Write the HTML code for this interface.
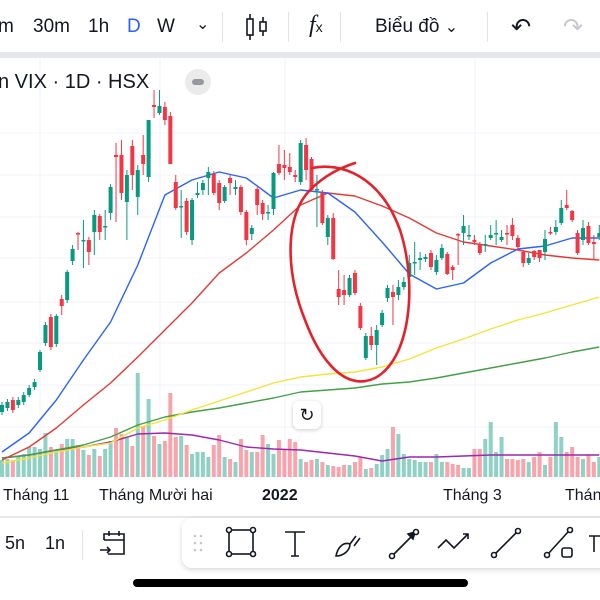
<!DOCTYPE html>
<html><head><meta charset="utf-8"><style>
body{margin:0;width:600px;height:600px;overflow:hidden;background:#fff;font-family:"Liberation Sans",sans-serif;position:relative}
.t{position:absolute;font-size:19px;color:#131722;white-space:nowrap}
.sep{position:absolute;width:1px;background:#e0e3eb}
</style></head><body>
<div style="position:absolute;left:0;top:0;width:600px;height:52px;background:#fff"></div>
<div style="position:absolute;left:0;top:52px;width:600px;height:6px;background:#e6e8ee"></div>
<div class="t" style="left:-2px;top:16px">m</div>
<div class="t" style="left:33px;top:16px">30m</div>
<div class="t" style="left:88px;top:16px">1h</div>
<div class="t" style="left:127px;top:16px;color:#2962ff">D</div>
<div class="t" style="left:157px;top:16px">W</div>
<div class="t" style="left:196px;top:14px;font-size:16px">⌄</div>
<div class="sep" style="left:222px;top:12px;height:30px"></div>
<svg style="position:absolute;left:244px;top:12px" width="26" height="30"><g stroke="#131722" stroke-width="1.6" fill="none"><rect x="3" y="7" width="6" height="16"/><line x1="6" y1="2" x2="6" y2="7"/><line x1="6" y1="23" x2="6" y2="28"/><rect x="16" y="10" width="6" height="9"/><line x1="19" y1="5" x2="19" y2="10"/><line x1="19" y1="19" x2="19" y2="24"/></g></svg>
<div class="sep" style="left:288px;top:12px;height:30px"></div>
<div class="t" style="left:309px;top:12px;font-family:'Liberation Serif',serif;font-style:italic;font-size:24px">f<span style="font-size:14px;font-style:normal;font-family:'Liberation Sans'">x</span></div>
<div class="sep" style="left:340px;top:12px;height:30px"></div>
<div class="t" style="left:375px;top:16px">Biểu đồ <span style="font-size:16px">⌄</span></div>
<div class="sep" style="left:487px;top:12px;height:30px"></div>
<div class="t" style="left:511px;top:13px;font-size:24px">↶</div>
<div class="t" style="left:563px;top:13px;font-size:24px;color:#c5c8d0">↷</div>

<svg id="chart" style="position:absolute;left:0;top:58px" width="600" height="458" viewBox="0 58 600 458"></svg>

<div class="t" style="left:-2px;top:71px;font-size:20px">n VIX · 1D · HSX</div>
<div style="position:absolute;left:185px;top:69px;width:26px;height:26px;border-radius:13px;background:#ebebeb"><div style="position:absolute;left:7px;top:10px;width:12px;height:6px;border-radius:3px;background:#9598a1"></div></div>
<div style="position:absolute;left:293px;top:401px;width:28px;height:28px;border-radius:6px;background:#fff;box-shadow:0 1px 4px rgba(0,0,0,.2);text-align:center;line-height:28px;font-size:18px;color:#131722">↻</div>

<div class="t" style="left:3px;top:487px;font-size:16px">Tháng 11</div>
<div class="t" style="left:99px;top:487px;font-size:16px">Tháng Mười hai</div>
<div class="t" style="left:262px;top:487px;font-size:16px;font-weight:bold">2022</div>
<div class="t" style="left:443px;top:487px;font-size:16px">Tháng 3</div>
<div class="t" style="left:565px;top:487px;font-size:16px">Thán</div>
<div style="position:absolute;left:0;top:516px;width:600px;height:2px;background:#e6e8ee"></div>
<div class="t" style="left:5px;top:533px;font-size:18px">5n</div>
<div class="t" style="left:45px;top:533px;font-size:18px">1n</div>
<div class="sep" style="left:82px;top:530px;height:30px"></div>
<svg style="position:absolute;left:98px;top:528px" width="30" height="30"><g stroke="#131722" stroke-width="1.6" fill="none"><path d="M6 12V6h20v20H10"/><line x1="6" y1="12" x2="26" y2="12"/><line x1="11" y1="3" x2="11" y2="8"/><line x1="21" y1="3" x2="21" y2="8"/><path d="M2 22h10M9 19l3 3-3 3"/></g></svg>
<div style="position:absolute;left:182px;top:518px;width:430px;height:50px;border-radius:10px;background:#fff;box-shadow:0 2px 6px rgba(0,0,0,.15)"></div>
<svg style="position:absolute;left:182px;top:518px" width="418" height="50"><g stroke="#131722" stroke-width="1.6" fill="none">
<g fill="#c5c8d0" stroke="none"><circle cx="13" cy="18" r="1.3"/><circle cx="19" cy="18" r="1.3"/><circle cx="13" cy="25" r="1.3"/><circle cx="19" cy="25" r="1.3"/><circle cx="13" cy="32" r="1.3"/><circle cx="19" cy="32" r="1.3"/></g>
<rect x="47" y="12" width="24" height="24"/><g fill="#fff"><circle cx="47" cy="12" r="2.5"/><circle cx="71" cy="12" r="2.5"/><circle cx="47" cy="36" r="2.5"/><circle cx="71" cy="36" r="2.5"/></g>
<path d="M103 14h20M113 14v24M109 38h8"/>
<path d="M154 38c2-10 8-14 14-12c0 6-6 12-14 12zM168 26l6-8M172 28l6-8"/>
<path d="M212 36L232 16"/><path d="M226 16l7-2-2 7z" fill="#131722"/><circle cx="210" cy="38" r="2.5" fill="#fff"/><circle cx="234" cy="14" r="2.5" fill="#fff"/>
<path d="M256 30l8-8 8 8 14-14M281 16h5v5"/>
<path d="M313 36L335 14"/><circle cx="312" cy="37" r="2.5" fill="#fff"/><circle cx="336" cy="13" r="2.5" fill="#fff"/>
<path d="M366 36L386 14"/><circle cx="365" cy="37" r="2.5" fill="#fff"/><circle cx="388" cy="12" r="2.5" fill="#fff"/><rect x="380" y="30" width="10" height="9" rx="2"/>
<path d="M407 18h11M412 18v16"/>
</g></svg>
<div style="position:absolute;left:133px;top:579px;width:335px;height:8px;border-radius:4px;background:#000"></div>

<script>
const opens=[6.8,7.2,8.0,7.5,7.8,8.5,9.3,11.0,13.7,16.3,13.6,18.1,18.0,21.9,24.7,23.9,24.0,24.8,26.4,25.3,26.7,32.5,32.5,27.8,33.4,28.3,32.5,30.3,37.5,36.7,37.3,36.4,29.8,27.4,27.9,24.0,28.5,29.0,30.2,30.6,29.7,27.9,30.2,29.1,29.3,26.8,24.6,29.1,27.7,26.7,27.1,31.6,31.5,31.3,30.5,29.8,33.5,32.1,29.0,28.7,24.3,26.2,19.1,19.0,18.5,20.7,17.4,12.2,14.4,13.5,15.5,18.2,18.8,18.5,19.3,20.3,21.7,22.0,22.1,22.7,20.8,22.2,22.6,21.3,24.6,24.7,24.4,24.0,23.5,23.5,24.2,24.6,24.0,24.7,25.5,24.2,22.8,21.7,22.9,23.0,22.8,24.8,24.8,25.7,27.5,26.9,24.7,24.0,25.4,23.8,24.3];
const closes=[7.5,7.8,7.0,8.0,8.5,9.2,9.8,12.8,15.5,13.3,16.4,17.4,20.8,23.1,24.6,24.0,22.8,26.5,24.8,25.4,29.3,32.3,28.7,30.5,30.5,31.0,31.6,36.0,37.3,37.4,36.0,31.6,27.2,27.4,24.8,28.0,28.7,29.7,30.8,28.7,27.7,29.3,29.7,29.3,26.8,24.0,25.2,27.5,26.6,26.8,30.7,30.7,31.2,30.8,30.3,33.7,31.0,29.0,29.1,25.7,26.2,22.1,18.3,18.5,20.2,18.7,15.2,14.4,13.5,15.0,16.7,19.2,18.3,19.3,19.8,21.7,21.8,22.2,22.3,21.3,22.0,23.2,20.6,21.0,24.5,25.4,24.5,23.8,22.7,23.6,24.5,24.7,24.3,24.6,24.4,23.3,21.7,22.2,22.3,22.2,24.1,24.7,25.3,27.2,27.2,26.0,22.7,25.2,23.7,23.6,24.7];
const highs=[7.8,8.1,8.3,8.3,8.8,9.5,10.1,13.0,15.8,16.6,16.6,18.5,21.0,23.5,24.8,26.0,24.3,27.0,26.6,27.0,29.6,33.7,34.0,31.0,34.0,31.5,34.5,36.0,39.0,39.0,37.8,36.8,30.5,29.0,28.2,28.2,29.8,30.0,31.3,30.9,30.0,29.5,30.5,30.0,29.5,27.0,25.5,29.3,28.0,27.5,30.8,33.5,33.0,32.7,31.0,34.0,34.2,32.3,30.5,29.0,26.5,26.7,21.0,20.5,20.5,21.0,17.7,14.7,15.3,15.5,17.0,19.5,19.5,20.0,20.3,22.5,23.8,22.8,22.6,23.0,22.5,23.6,22.8,21.5,24.7,26.5,25.5,24.5,23.8,24.5,25.5,26.0,25.0,25.5,26.2,24.5,23.0,22.7,23.0,23.0,25.0,25.3,26.0,28.0,29.0,27.0,25.0,26.0,25.8,24.5,25.5];
const lows=[6.5,6.9,6.7,7.2,7.5,8.3,9.0,10.8,13.4,13.0,13.3,16.5,17.7,21.5,23.0,21.2,21.5,22.5,24.0,24.0,26.0,25.8,28.0,24.0,29.0,26.5,30.5,29.8,36.2,36.5,35.5,31.6,27.0,24.2,24.5,23.5,28.2,28.5,28.5,28.5,27.0,27.7,28.5,28.5,26.5,23.5,24.0,26.5,26.0,26.0,26.5,30.5,30.0,30.5,29.8,29.5,30.0,28.8,25.3,25.5,23.5,22.0,17.5,17.5,18.3,18.5,15.0,12.0,13.0,11.5,15.3,17.8,15.5,18.0,19.0,20.0,20.5,21.0,21.8,21.0,20.5,22.0,20.5,20.0,21.5,23.5,24.0,23.5,22.5,22.8,24.0,23.5,23.8,23.5,24.0,23.0,21.3,21.5,22.0,21.8,22.0,24.5,24.5,25.5,27.0,25.8,22.5,23.5,23.5,22.0,24.0];
const volumes=[17,18,17,20,23,30,30,28,44,30,27,33,38,38,32,27,22,28,21,28,36,49,43,40,31,104,51,78,41,33,36,84,40,41,32,23,25,25,20,32,42,20,18,15,38,27,25,25,42,33,23,37,27,38,35,18,15,17,18,15,12,11,10,12,12,15,20,8,9,13,22,28,50,43,23,18,17,15,15,15,23,15,15,13,12,9,9,28,28,38,55,25,40,18,18,17,18,15,20,25,12,20,55,40,25,30,20,18,22,15,20];
const maIdx=[0,5,10,15,20,25,30,35,40,45,50,55,60,65,70,75,80,85,90,95,100,105,110];
const ma20=[2.8,4.7,8.0,12.0,15.8,21.5,28.5,30.0,30.8,30.2,28.2,29.0,28.7,26.8,23.8,20.6,19.1,19.7,21.7,23.1,23.4,24.2,24.2];
const ma50=[2.0,3.3,5.2,7.5,9.7,12.3,15.0,17.7,20.7,22.7,25.0,27.5,28.7,28.4,27.4,26.2,24.7,23.8,23.4,23.0,22.5,22.2,22.0];
const ma200=[1.7,2.2,2.8,3.3,3.7,5.2,6.0,7.0,7.9,8.8,9.7,10.3,10.6,10.8,11.3,12.1,13.2,14.1,15.1,16.0,16.7,17.5,18.3];
const ma100=[2.2,2.5,3.0,3.5,4.3,5.5,6.3,6.8,7.2,7.7,8.2,8.8,9.0,9.2,9.6,9.8,10.2,10.7,11.2,11.7,12.2,12.8,13.3];
const volMa=[19,22,27,30,35,43,44,42,37,30,28,27,24,21,16,20,20,21,22,22,22,22,22];

const xS=i=>2+i*5.43, yS=v=>480-v*10, vS=v=>477-v;
const svg=document.getElementById('chart');const NS='http://www.w3.org/2000/svg';
function mk(t,a){const e=document.createElementNS(NS,t);for(const k in a)e.setAttribute(k,a[k]);svg.appendChild(e);return e;}
[133,175,217,258,302,343,385,427].forEach(y=>{const g=mk('line',{x1:0,x2:600,y1:y,y2:y,stroke:'#f0f3fa'});

});
[40,160,285,475].forEach(x=>{const g=mk('line',{x1:x,x2:x,y1:58,y2:478,stroke:'#f0f3fa'});

});
volumes.forEach((v,i)=>{const up=closes[i]>=opens[i];
const b=mk('rect',{x:xS(i)-2,y:vS(v),width:4,height:v,fill:up?'rgba(8,153,129,0.45)':'rgba(242,54,69,0.45)'});

});
function line(arr,sc,col,name){const d=arr.map((v,k)=>(k?'L':'M')+xS(maIdx[k]).toFixed(1)+' '+sc(v).toFixed(1)).join(' ');
const p=mk('path',{d:d,fill:'none',stroke:col,'stroke-width':1.4,'stroke-linejoin':'round'});

}
line(volMa,vS,'#9c27b0','volume-ma-line');
line(ma100,yS,'#43a047','ma-green-line');
line(ma200,yS,'#f5e23b','ma-yellow-line');
line(ma50,yS,'#e53935','ma-red-line');
line(ma20,yS,'#2962ff','ma-blue-line');
opens.forEach((o,i)=>{const c=closes[i],up=c>=o,col=up?'#089981':'#f23645',x=xS(i);
const w=mk('line',{x1:x,x2:x,y1:yS(highs[i]),y2:yS(lows[i]),stroke:col,'stroke-width':1});


const top=yS(Math.max(o,c)),h=Math.max(1.5,Math.abs(o-c)*10);
const b=mk('rect',{x:x-2,y:top,width:4,height:h,fill:col});

});
const an=mk('path',{d:'M312 168C340 162 380 175 400 230C418 285 410 360 375 378C345 392 320 360 305 320C285 270 285 215 310 190C325 175 340 168 355 163',fill:'none',stroke:'#e5212b','stroke-width':2.6,'stroke-linecap':'round'});


</script>
</body></html>
